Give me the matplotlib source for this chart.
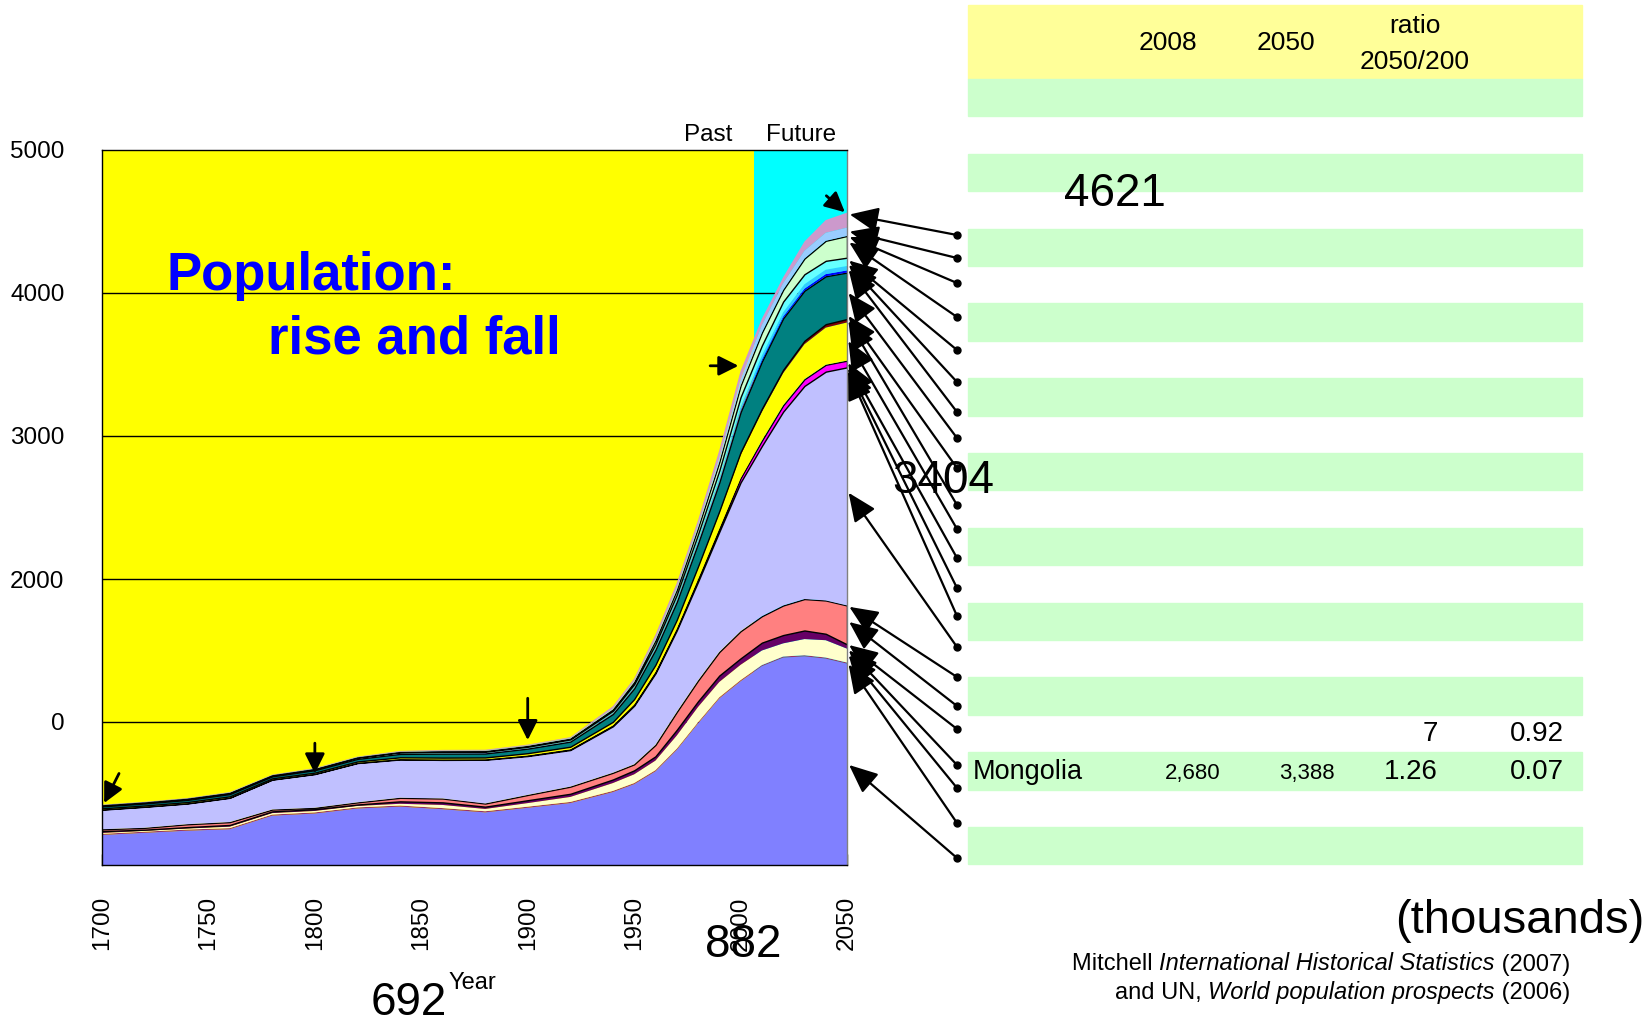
import matplotlib
matplotlib.use("Agg")
import numpy as np
import matplotlib.pyplot as plt
from matplotlib.offsetbox import TextArea, HPacker, AnnotationBbox

plt.rcParams["font.family"] = ["Liberation Sans", "DejaVu Sans"]

# data, layers bottom -> top
years = [1700, 1720, 1740, 1760, 1780, 1800, 1820, 1840, 1860, 1880, 1900, 1920,
         1940, 1950, 1960, 1970, 1980, 1990, 2000, 2010, 2020, 2030, 2040, 2050]

blue_base = [210, 225, 240, 250, 345, 360, 395, 408, 390, 368, 400, 433,
             510, 565, 655, 805, 990, 1165, 1285, 1390, 1450, 1459, 1443, 1408]
maroon = [8, 8, 8, 8, 8, 8, 8, 8, 8, 8, 8, 8, 8, 8, 8, 8, 8, 8, 8, 8, 8, 8, 8, 8]
light_yellow = [6, 6, 7, 10, 10, 10, 10, 12, 22, 16, 25, 35,
                55, 61, 67, 92, 107, 107, 107, 102, 92, 113, 121, 97]
purple = [13, 8, 10, 12, 12, 12, 10, 17, 18, 16, 20, 22,
          25, 28, 30, 40, 40, 45, 45, 55, 58, 60, 45, 30]
pink = [13, 13, 20, 20, 13, 10, 15, 25, 27, 22, 37, 50,
        47, 42, 80, 125, 145, 165, 190, 185, 207, 220, 233, 272]
lavender = [137, 147, 145, 170, 209, 236, 275, 268, 270, 306, 272, 256,
            325, 410, 500, 570, 690, 840, 1040, 1190, 1355, 1490, 1600, 1665]
magenta = [2, 2, 2, 2, 2, 2, 2, 3, 3, 3, 4, 5, 6, 8, 10, 12, 18, 22, 30, 38, 45, 47, 48, 47]
yellow = [5, 5, 6, 6, 5, 6, 7, 9, 10, 10, 12, 14, 20, 30, 40, 50, 75, 105, 160, 200, 225, 245, 260, 267]
dark_red = [2, 2, 2, 2, 2, 2, 2, 3, 3, 3, 4, 4, 5, 8, 10, 12, 15, 18, 22, 23, 23, 24, 24, 24]
teal = [14, 14, 15, 16, 14, 17, 18, 24, 28, 28, 32, 36, 55, 75, 105, 125, 160, 200, 280, 330, 360, 350, 335, 325]
blue_thin = [1, 1, 1, 1, 1, 1, 1, 1, 2, 2, 2, 2, 3, 4, 5, 6, 7, 9, 11, 12, 12, 14, 15, 15]
sky = [2, 2, 2, 2, 2, 2, 3, 4, 4, 4, 4, 5, 7, 10, 14, 16, 20, 24, 28, 30, 30, 31, 31, 31]
light_cyan = [3, 3, 3, 3, 3, 3, 4, 5, 6, 6, 7, 8, 12, 15, 20, 28, 37, 50, 66, 70, 75, 70, 62, 58]
light_green = [2, 2, 3, 3, 2, 3, 3, 4, 5, 5, 6, 6, 10, 15, 26, 33, 45, 60, 80, 90, 82, 110, 140, 152]
light_blue = [2, 2, 2, 3, 2, 3, 3, 3, 4, 4, 4, 5, 8, 10, 15, 20, 23, 32, 45, 52, 47, 54, 56, 58]
light_purple = [2, 2, 2, 2, 2, 3, 2, 4, 5, 5, 5, 5, 14, 15, 25, 28, 30, 50, 58, 45, 41, 65, 89, 105]

layers = [blue_base, maroon, light_yellow, purple, pink, lavender, magenta, yellow,
          dark_red, teal, blue_thin, sky, light_cyan, light_green, light_blue, light_purple]
colors = ["#8080FF", "#993366", "#FFFFCC", "#660066", "#FF8080", "#C0C0FF", "#FF00FF",
          "#FFFF00", "#800000", "#008080", "#0000FF", "#33CCFF", "#66FFFF", "#CCFFCC",
          "#99CCFF", "#CC99CC"]
outlined = {4, 6, 9, 13}

yticks = [1000, 2000, 3000, 4000, 5000]
ytick_labels = ["0", "2000", "3000", "4000", "5000"]
xticks = [1700, 1750, 1800, 1850, 1900, 1950, 2000, 2050]

# table
header = ["2008", "2050", "ratio\n2050/200"]
row_country = "Mongolia"
row_values = ["2,680", "3,388", "1.26", "0.07"]
row_above = ["7", "0.92"]

# arrows: left dots (figure pixel y) -> value at 2050 on the chart edge
dot_y = [235, 258, 283, 317, 350, 382, 412, 438, 468, 505, 529, 558, 588, 616,
         647, 677, 706, 729, 765, 788, 823, 858]
tip_vals = [4553, 4434, 4399, 4364, 4239, 4211, 4176, 4015, 3855, 3820, 3680, 3527,
            3492, 3470, 2619, 1816, 1711, 1550, 1515, 1480, 1418, 712]

W, H = 1646, 1023
fig = plt.figure(figsize=(W / 100, H / 100), dpi=100)


def fx(px):
    return px / W


def fy(py):
    return 1 - py / H


ax = fig.add_axes([fx(102), fy(865), fx(847) - fx(102), fy(150) - fy(865)])
ax.set_facecolor("#FFFF00")
ax.axvspan(2006.5, 2050, color="#00FFFF", zorder=0.5, lw=0)
for v in yticks[:-1]:
    ax.axhline(v, color="black", lw=1, zorder=1)

polys = ax.stackplot(years, *layers, colors=colors, zorder=3, lw=0)
for i, p in enumerate(polys):
    if i in outlined:
        p.set_edgecolor("black")
        p.set_linewidth(1.0)

ax.set_xlim(1700, 2050)
ax.set_ylim(0, 5000)
ax.set_yticks(yticks)
ax.set_yticklabels(ytick_labels)
ax.set_xticks(xticks)
ax.set_xticklabels([str(x) for x in xticks], rotation=90, va="center")
ax.set_xticks(np.arange(1700, 2051, 10), minor=True)
ax.tick_params(axis="y", length=0, pad=27, labelsize=17.5)
ax.tick_params(axis="x", which="both", direction="in", length=8, width=1,
               pad=42, labelsize=17.5)
for s in ax.spines.values():
    s.set_linewidth(1)
    s.set_zorder(5)
ax.spines["right"].set_color("#808080")

# in-chart arrows
small_arrow = dict(arrowstyle="-|>,head_length=0.6,head_width=0.3", color="black",
                   lw=2, mutation_scale=20, shrinkA=0, shrinkB=0)
ax.annotate("", xy=(1701, 433), xytext=(1708, 640), arrowprops=small_arrow, zorder=6)
ax.annotate("", xy=(1800, 640), xytext=(1800, 852), arrowprops=small_arrow, zorder=6)
ax.annotate("", xy=(1900, 873), xytext=(1900, 1166), arrowprops=small_arrow, zorder=6)
ax.annotate("", xy=(1999, 3491), xytext=(1985.7, 3491), arrowprops=small_arrow, zorder=6)
ax.annotate("", xy=(2049, 4565), xytext=(2040.3, 4680), arrowprops=small_arrow, zorder=6)

# titles / labels
fig.text(fx(167), fy(290), "Population:", color="#0000FF", fontsize=38,
         fontweight="bold", va="baseline")
fig.text(fx(268), fy(353), "rise and fall", color="#0000FF", fontsize=38,
         fontweight="bold", va="baseline")
fig.text(fx(708), fy(135), "Past", fontsize=17.5, ha="center", va="center")
fig.text(fx(801), fy(135), "Future", fontsize=17.5, ha="center", va="center")
fig.text(fx(472), fy(983), "Year", fontsize=17, ha="center", va="center")
fig.text(fx(409), fy(1003), "692", fontsize=33, ha="center", va="center")
fig.text(fx(743), fy(945), "882", fontsize=33, ha="center", va="center")
fig.text(fx(943), fy(481), "3404", fontsize=33, ha="center", va="center")
fig.text(fx(1115), fy(194), "4621", fontsize=33, ha="center", va="center")

# table background
fig.patches.append(plt.Rectangle((fx(968), fy(79)), fx(1582) - fx(968), fy(5) - fy(79),
                                 transform=fig.transFigure, color="#FFFF99", zorder=0))
row_h = 37.4
for k in range(11):
    top = 79 + 2 * k * row_h
    fig.patches.append(plt.Rectangle((fx(968), fy(top + row_h)), fx(1582) - fx(968),
                                     row_h / H, transform=fig.transFigure,
                                     color="#CCFFCC", zorder=0))

fig.text(fx(1168), fy(43), header[0], fontsize=19, ha="center", va="center")
fig.text(fx(1286), fy(43), header[1], fontsize=19, ha="center", va="center")
fig.text(fx(1415), fy(44), header[2], fontsize=19, ha="center", va="center",
         linespacing=1.6)
fig.text(fx(973), fy(772), row_country, fontsize=19.5, ha="left", va="center")
fig.text(fx(1193), fy(773), row_values[0], fontsize=16, ha="center", va="center")
fig.text(fx(1307), fy(773), row_values[1], fontsize=16, ha="center", va="center")
fig.text(fx(1438), fy(772), row_values[2], fontsize=20, ha="right", va="center")
fig.text(fx(1564), fy(772), row_values[3], fontsize=20, ha="right", va="center")
fig.text(fx(1438), fy(734), row_above[0], fontsize=20, ha="right", va="center")
fig.text(fx(1564), fy(734), row_above[1], fontsize=20, ha="right", va="center")

fig.text(fx(1644), fy(921), "(thousands)", fontsize=34, ha="right", va="center")


# source lines with italic titles
def source_line(parts, y):
    boxes = [TextArea(t, textprops=dict(fontsize=17, style=st)) for t, st in parts]
    pack = HPacker(children=boxes, align="baseline", pad=0, sep=0)
    ab = AnnotationBbox(pack, (fx(1570), fy(y)), xycoords="figure fraction",
                        box_alignment=(1, 0.5), frameon=False)
    fig.add_artist(ab)


source_line([("Mitchell ", "normal"), ("International Historical Statistics", "italic"),
             (" (2007)", "normal")], 964)
source_line([("and UN, ", "normal"), ("World population prospects", "italic"),
             (" (2006)", "normal")], 993)

# connector arrows from the table to the chart edge
big_arrow = dict(arrowstyle="-|>,head_length=0.8,head_width=0.35", color="black",
                 lw=1.6, mutation_scale=22, shrinkA=0, shrinkB=2)
for y, v in zip(dot_y, tip_vals):
    ax.annotate("", xy=(2050, v), xycoords="data", xytext=(fx(957), fy(y)),
                textcoords="figure fraction", arrowprops=big_arrow,
                annotation_clip=False, zorder=7)
    fig.add_artist(plt.Line2D([fx(957)], [fy(y)], marker="o", ms=5, color="black",
                              transform=fig.transFigure))

fig.savefig("out.png", dpi=100)
